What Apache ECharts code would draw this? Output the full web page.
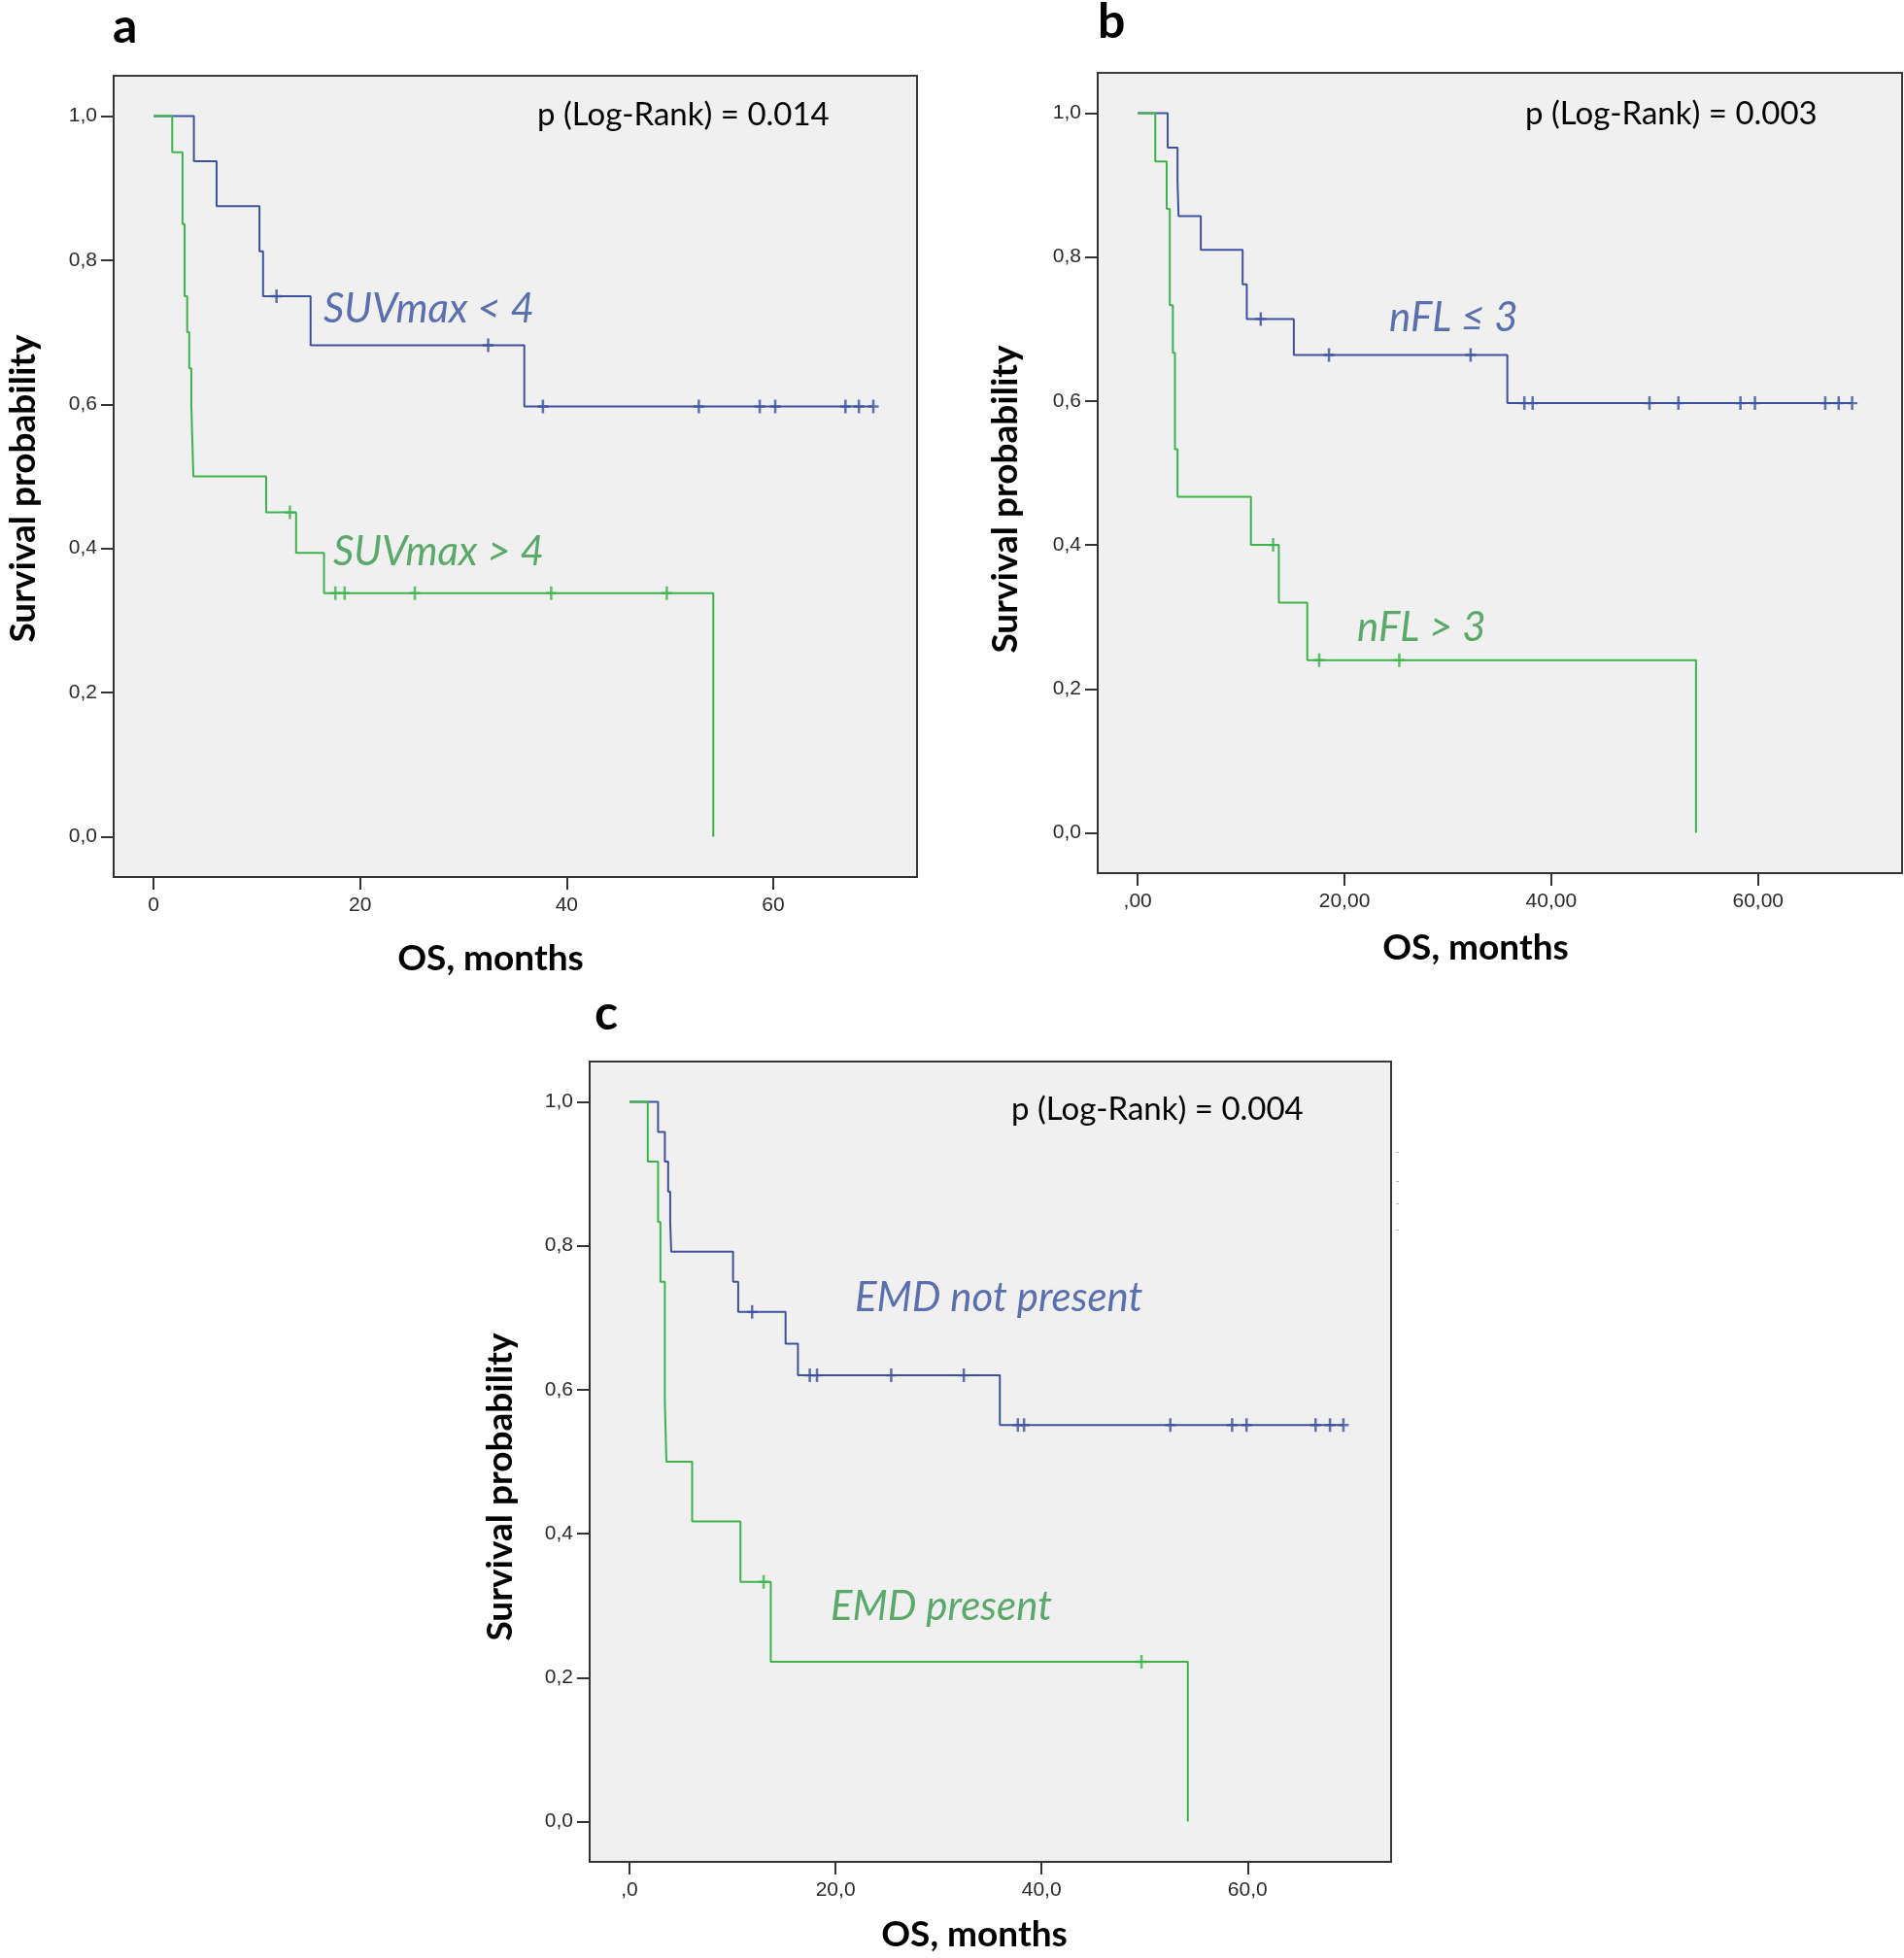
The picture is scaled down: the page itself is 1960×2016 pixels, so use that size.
<!DOCTYPE html>
<html><head><meta charset="utf-8">
<script src="https://cdn.jsdelivr.net/npm/echarts@6/dist/echarts.min.js"></script>
<style>html,body{margin:0;padding:0;background:#fff}#c{width:1960px;height:2016px}</style>
</head><body><div id="c"></div>
<script>
// ---------- tick labels ----------
const yTickValues = [0, 0.2, 0.4, 0.6, 0.8, 1.0];
const yTickLabels = ['0,0', '0,2', '0,4', '0,6', '0,8', '1,0'];
const xTickValues = [0, 20, 40, 60];
const aXTickLabels = ['0', '20', '40', '60'];
const bXTickLabels = [',00', '20,00', '40,00', '60,00'];
const cXTickLabels = [',0', '20,0', '40,0', '60,0'];

// ---------- panel a : SUVmax ----------
const aBlueTimes  = [0, 3.9, 6.1, 10.25, 10.6, 15.2, 35.9];
const aBlueSurv   = [1, 0.9375, 0.875, 0.8125, 0.75, 0.682, 0.597];
const aBlueCensor = [11.9, 32.4, 37.7, 52.8, 58.7, 60.2, 67.0, 68.3, 69.7];
const aGreenTimes  = [0, 1.8, 2.8, 3.0, 3.25, 3.45, 3.65, 3.75, 3.85, 10.9, 13.8, 16.5, 54.2];
const aGreenSurv   = [1, 0.95, 0.85, 0.75, 0.70, 0.65, 0.60, 0.55, 0.50, 0.45, 0.394, 0.338, 0];
const aGreenCensor = [13.2, 17.6, 18.5, 25.3, 38.5, 49.7];

// ---------- panel b : nFL ----------
const bBlueTimes  = [0, 2.9, 3.85, 3.95, 6.1, 10.15, 10.55, 15.1, 35.75];
const bBlueSurv   = [1, 0.952, 0.905, 0.857, 0.810, 0.762, 0.714, 0.664, 0.597];
const bBlueCensor = [11.9, 18.5, 32.2, 37.4, 38.2, 49.5, 52.3, 58.3, 59.7, 66.5, 67.8, 69.1];
const bGreenTimes  = [0, 1.7, 2.8, 3.1, 3.4, 3.6, 3.85, 10.95, 13.65, 16.4, 54.0];
const bGreenSurv   = [1, 0.933, 0.867, 0.733, 0.667, 0.533, 0.467, 0.400, 0.320, 0.240, 0];
const bGreenCensor = [13.1, 17.55, 25.3];

// ---------- panel c : EMD ----------
const cBlueTimes  = [0, 2.77, 3.43, 3.75, 3.95, 4.05, 10.05, 10.55, 15.15, 16.35, 35.95];
const cBlueSurv   = [1, 0.958, 0.917, 0.875, 0.833, 0.792, 0.750, 0.708, 0.664, 0.620, 0.551];
const cBlueCensor = [11.9, 17.5, 18.2, 25.4, 32.45, 37.7, 38.3, 52.5, 58.5, 59.9, 66.6, 68.0, 69.3];
const cGreenTimes  = [0, 1.77, 2.77, 3.0, 3.43, 3.58, 6.08, 10.77, 13.71, 54.2];
const cGreenSurv   = [1, 0.917, 0.833, 0.750, 0.583, 0.500, 0.417, 0.333, 0.222, 0];
const cGreenCensor = [13.02, 49.7];

// ---------- texts ----------
const panelLetters = ['a', 'b', 'c'];
const pValues = ['p (Log-Rank) = 0.014', 'p (Log-Rank) = 0.003', 'p (Log-Rank) = 0.004'];
const blueNames = ['SUVmax < 4', 'nFL \u2264 3', 'EMD not present'];
const greenNames = ['SUVmax > 4', 'nFL > 3', 'EMD present'];
const xTitle = 'OS, months';
const yTitle = 'Survival probability';

// ---------- styling ----------
const BLUE = '#3f519d', GREEN = '#3db34c';
const BLUE_TXT = '#5a6fae', GREEN_TXT = '#5aa86a';
const AX = '#333333';
const SANS = 'Lato, "Open Sans", sans-serif';

const panels = [
  {grid: {left: 117, top: 78, width: 827, height: 825}, xl: aXTickLabels,
   bt: aBlueTimes, bs: aBlueSurv, bc: aBlueCensor, gt: aGreenTimes, gs: aGreenSurv, gc: aGreenCensor},
  {grid: {left: 1130, top: 75, width: 828, height: 824}, xl: bXTickLabels,
   bt: bBlueTimes, bs: bBlueSurv, bc: bBlueCensor, gt: bGreenTimes, gs: bGreenSurv, gc: bGreenCensor},
  {grid: {left: 607, top: 1093, width: 825, height: 824}, xl: cXTickLabels,
   bt: cBlueTimes, bs: cBlueSurv, bc: cBlueCensor, gt: cGreenTimes, gs: cGreenSurv, gc: cGreenCensor}
];

function survAt(times, surv, t) {
  let v = surv[0];
  for (let k = 0; k < times.length; k++) if (times[k] <= t) v = surv[k];
  return v;
}
function stepData(times, surv, censor) {
  const pts = times.map((t, k) => [t, surv[k]]);
  const last = times[times.length - 1];
  const maxC = censor.length ? Math.max(...censor) : last;
  if (maxC > last) pts.push([maxC, surv[surv.length - 1]]);
  return pts;
}
function censorData(times, surv, censor) {
  return censor.map(t => [t, survAt(times, surv, t)]);
}
const PLUS = 'path://M4.6,0H7.4V5H12V7H7.4V12H4.6V7H0V5H4.6Z';

const grids = [], xAxes = [], yAxes = [], series = [];
panels.forEach((p, i) => {
  grids.push(Object.assign({show: true, backgroundColor: '#f0f0f0', borderColor: '#3a3a3a', borderWidth: 2, containLabel: false}, p.grid));
  xAxes.push({
    type: 'value', gridIndex: i, min: -3.87, max: 73.93,
    axisLine: {show: true, onZero: false, lineStyle: {color: AX, width: 2}},
    axisTick: {show: true, length: 13, lineStyle: {color: AX, width: 2}, customValues: xTickValues},
    axisLabel: {customValues: xTickValues, margin: 19, color: '#2a2a2a', fontSize: 21,
      fontFamily: '"Liberation Sans", Arial, sans-serif',
      formatter: v => p.xl[xTickValues.findIndex(x => Math.abs(x - v) < 1e-6)]},
    splitLine: {show: false}
  });
  yAxes.push({
    type: 'value', gridIndex: i, min: -0.056, max: 1.056,
    axisLine: {show: true, onZero: false, lineStyle: {color: AX, width: 2}},
    axisTick: {show: true, length: 13, lineStyle: {color: AX, width: 2}, customValues: yTickValues},
    axisLabel: {customValues: yTickValues, margin: 17, color: '#2a2a2a', fontSize: 21,
      fontFamily: '"Liberation Sans", Arial, sans-serif',
      formatter: v => yTickLabels[yTickValues.findIndex(x => Math.abs(x - v) < 1e-6)]},
    splitLine: {show: false}
  });
  const lineBase = {type: 'line', xAxisIndex: i, yAxisIndex: i, step: 'end', symbol: 'none', silent: true, z: 3};
  series.push(Object.assign({}, lineBase, {name: blueNames[i], data: stepData(p.bt, p.bs, p.bc), lineStyle: {color: BLUE, width: 2}}));
  series.push(Object.assign({}, lineBase, {name: greenNames[i], data: stepData(p.gt, p.gs, p.gc), lineStyle: {color: GREEN, width: 2}}));
  series.push({type: 'scatter', xAxisIndex: i, yAxisIndex: i, symbol: PLUS, symbolSize: [11, 14], silent: true, z: 4,
    itemStyle: {color: BLUE}, data: censorData(p.bt, p.bs, p.bc)});
  series.push({type: 'scatter', xAxisIndex: i, yAxisIndex: i, symbol: PLUS, symbolSize: [11, 14], silent: true, z: 4,
    itemStyle: {color: GREEN}, data: censorData(p.gt, p.gs, p.gc)});
});

function txt(text, x, y, opt) {
  return {type: 'text', x: x, y: y, rotation: opt.rot || 0, z: 10, silent: true,
    style: {text: text, fill: opt.fill || '#000', fontSize: opt.size, fontFamily: SANS,
      fontWeight: opt.weight || 'normal', fontStyle: opt.style || 'normal',
      align: opt.align || 'left', verticalAlign: 'middle'}};
}
function dot(x, y) {
  return {type: 'rect', z: 10, silent: true, shape: {x: x, y: y, width: 3, height: 1}, style: {fill: '#b8b8b8'}};
}
const graphics = [
  txt(panelLetters[0], 116, 28, {size: 50, weight: 'bold'}),
  txt(panelLetters[1], 1130, 23, {size: 50, weight: 'bold'}),
  txt(panelLetters[2], 612, 1044, {size: 50, weight: 'bold'}),
  txt(pValues[0], 553, 118, {size: 33}),
  txt(pValues[1], 1570, 117, {size: 33}),
  txt(pValues[2], 1041, 1142, {size: 33}),
  txt(blueNames[0], 333, 318, {size: 42, style: 'italic', fill: BLUE_TXT}),
  txt(greenNames[0], 343, 568, {size: 42, style: 'italic', fill: GREEN_TXT}),
  txt(blueNames[1], 1430, 327, {size: 42, style: 'italic', fill: BLUE_TXT}),
  txt(greenNames[1], 1397, 646, {size: 42, style: 'italic', fill: GREEN_TXT}),
  txt(blueNames[2], 880, 1336, {size: 42, style: 'italic', fill: BLUE_TXT}),
  txt(greenNames[2], 855, 1654, {size: 42, style: 'italic', fill: GREEN_TXT}),
  txt(xTitle, 505, 987, {size: 37, weight: 'bold', align: 'center'}),
  txt(xTitle, 1519, 976, {size: 37, weight: 'bold', align: 'center'}),
  txt(xTitle, 1003, 1992, {size: 37, weight: 'bold', align: 'center'}),
  txt(yTitle, 24, 503, {size: 37, weight: 'bold', align: 'center', rot: Math.PI / 2}),
  txt(yTitle, 1035, 514, {size: 37, weight: 'bold', align: 'center', rot: Math.PI / 2}),
  txt(yTitle, 515, 1531, {size: 37, weight: 'bold', align: 'center', rot: Math.PI / 2}),
  dot(1437, 1186), dot(1437, 1216), dot(1437, 1239), dot(1437, 1266)
];

const chart = echarts.init(document.getElementById('c'), null, {renderer: 'canvas'});
chart.setOption({
  backgroundColor: '#ffffff',
  animation: false,
  grid: grids, xAxis: xAxes, yAxis: yAxes, series: series,
  graphic: graphics
});
</script>
</body></html>
